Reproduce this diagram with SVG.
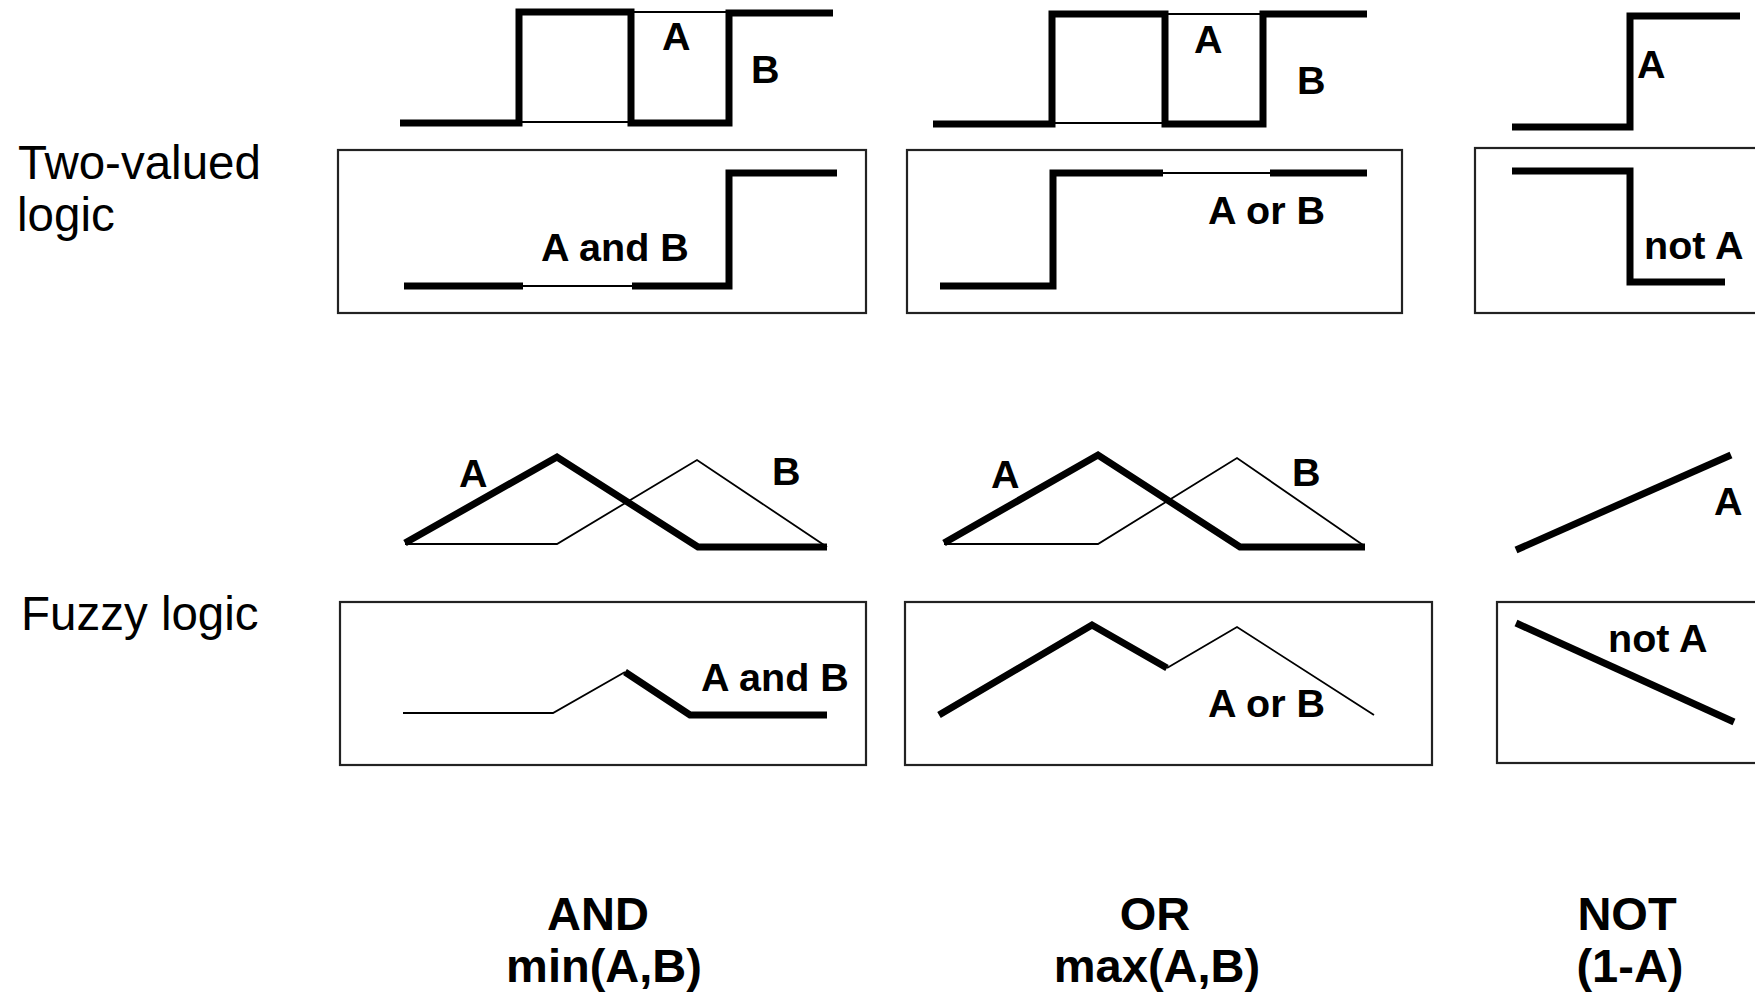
<svg xmlns="http://www.w3.org/2000/svg" width="1755" height="998" viewBox="0 0 1755 998">
<style>
.thick{fill:none;stroke:#000;stroke-width:7;stroke-linejoin:miter;stroke-linecap:butt}
.thin{fill:none;stroke:#000;stroke-width:1.8;stroke-linecap:butt}
.box{fill:none;stroke:#222;stroke-width:2.2}
.lbl{font-family:"Liberation Sans",Arial,sans-serif;font-weight:bold;font-size:39.5px;fill:#000}
.side{font-family:"Liberation Sans",Arial,sans-serif;font-size:47.5px;fill:#000}
.op{font-family:"Liberation Sans",Arial,sans-serif;font-weight:bold;font-size:47px;fill:#000;text-anchor:middle}
</style>
<rect width="1755" height="998" fill="#fff"/>

<g id="row-labels">
<text class="side" x="18" y="179">Two-valued</text>
<text class="side" x="17" y="231">logic</text>
<text class="side" x="21" y="630">Fuzzy logic</text>
</g>

<g id="tv-and">
<path class="thin" d="M519,122 H631 M631,12 H729"/>
<path class="thick" d="M400,123 H519 V12 H631 V123 H729 V13 H833"/>
<text class="lbl" x="662" y="50">A</text>
<text class="lbl" x="751" y="83">B</text>
<rect class="box" x="338" y="150" width="528" height="163"/>
<path class="thin" d="M523,286 H632"/>
<path class="thick" d="M404,286 H523 M632,286 H729 V173 H837"/>
<text class="lbl" x="541" y="261">A and B</text>
</g>

<g id="tv-or">
<path class="thin" d="M1052,123 H1165 M1165,14 H1263"/>
<path class="thick" d="M933,124 H1052 V14 H1165 V124 H1263 V14 H1367"/>
<text class="lbl" x="1194" y="53">A</text>
<text class="lbl" x="1297" y="94">B</text>
<rect class="box" x="907" y="150" width="495" height="163"/>
<path class="thin" d="M1163,173 H1270"/>
<path class="thick" d="M940,286 H1053 V173 H1163 M1270,173 H1367"/>
<text class="lbl" x="1208" y="224">A or B</text>
</g>

<g id="tv-not">
<path class="thick" d="M1512,127 H1630 V16 H1740"/>
<text class="lbl" x="1637" y="78">A</text>
<rect class="box" x="1475" y="148" width="300" height="165"/>
<path class="thick" d="M1512,171 H1630 V282 H1725"/>
<text class="lbl" x="1644" y="259">not A</text>
</g>

<g id="fz-and">
<path class="thin" d="M405,544 H557 L697,460 L827,547"/>
<path class="thick" d="M405,543 L557,457 L698,547 H827"/>
<text class="lbl" x="459" y="487">A</text>
<text class="lbl" x="772" y="485">B</text>
<rect class="box" x="340" y="602" width="526" height="163"/>
<path class="thin" d="M403,713 H553 L625,672"/>
<path class="thick" d="M625,672 L690,715 H827"/>
<text class="lbl" x="701" y="691">A and B</text>
</g>

<g id="fz-or">
<path class="thin" d="M944,544 H1098 L1237,458 L1363,545"/>
<path class="thick" d="M944,543 L1098,455 L1240,547 H1365"/>
<text class="lbl" x="991" y="488">A</text>
<text class="lbl" x="1292" y="486">B</text>
<rect class="box" x="905" y="602" width="527" height="163"/>
<path class="thin" d="M1167,668 L1237,627 L1374,715"/>
<path class="thick" d="M939,715 L1092,625 L1167,668"/>
<text class="lbl" x="1208" y="717">A or B</text>
</g>

<g id="fz-not">
<path class="thick" d="M1516,550 L1731,455"/>
<text class="lbl" x="1714" y="515">A</text>
<rect class="box" x="1497" y="602" width="300" height="161"/>
<path class="thick" d="M1516,623 L1734,722"/>
<text class="lbl" x="1608" y="652">not A</text>
</g>

<g id="op-and">
<text class="op" x="598" y="930">AND</text>
<text class="op" x="604" y="982">min(A,B)</text>
</g>
<g id="op-or">
<text class="op" x="1155" y="930">OR</text>
<text class="op" x="1157" y="982">max(A,B)</text>
</g>
<g id="op-not">
<text class="op" x="1627" y="930">NOT</text>
<text class="op" x="1630" y="982">(1-A)</text>
</g>
</svg>
